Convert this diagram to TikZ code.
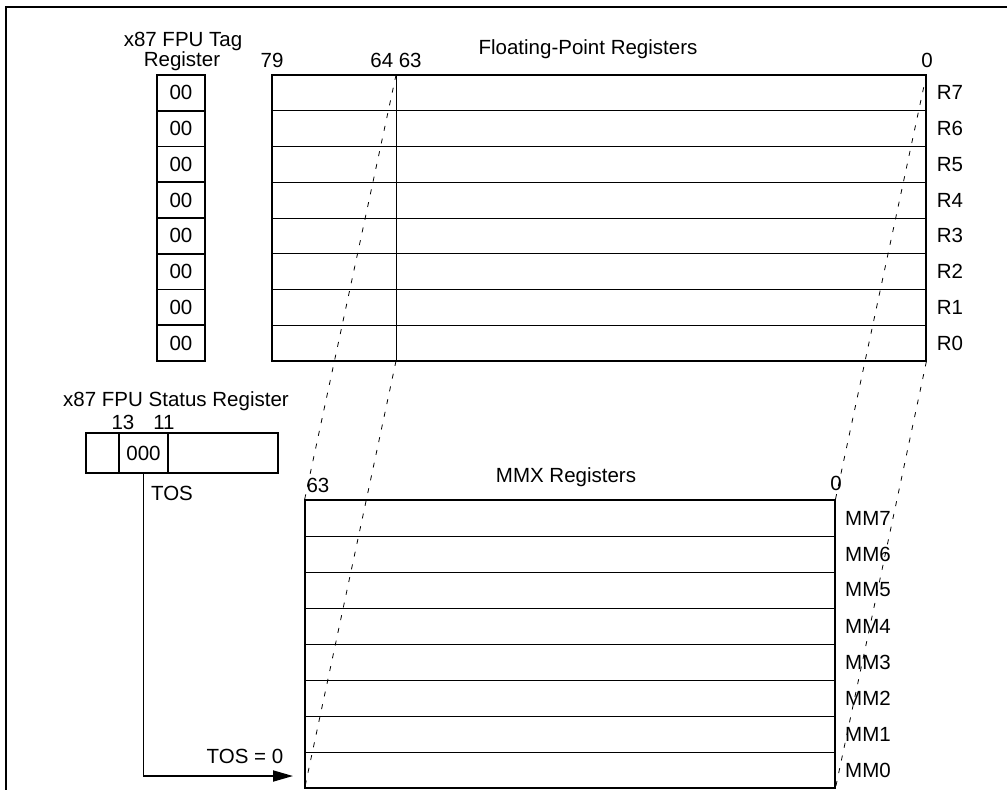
\documentclass[tikz,border=0pt]{standalone}
\usepackage{fontspec}
\setmainfont{Liberation Sans}
\usetikzlibrary{arrows.meta,positioning}

\begin{document}
\begin{tikzpicture}[x=1pt, y=-1pt,
  font=\fontsize{20.5}{22}\selectfont,
  cell/.style={rectangle, draw, line width=1.6pt, inner sep=0pt,
               minimum width=48pt, minimum height=35.75pt},
  regrow/.style={rectangle, draw, line width=0.8pt, inner sep=0pt},
  outline/.style={line width=2pt},
  map/.style={dash pattern=on 5pt off 8pt, line width=0.8pt},
  arrow/.style={-{Triangle[length=20pt,width=11pt]}, line width=1.8pt}
]
\useasboundingbox (0,0) rectangle (1007,790);
\draw[line width=2.2pt] (6,790) -- (6,7) -- (1007,7);

% tag register
\node[anchor=base] (tagtitle) at (183,46) {x87 FPU Tag};
\node[anchor=base] (tagtitle2) at (182,66) {Register};
\foreach \i in {0,...,7}
  \node[cell] (tag\i) at (181,{361-35.75*(\i+0.5)}) {00};

% floating-point registers
\node[anchor=base] (fptitle) at (588,54) {Floating-Point Registers};
\node[anchor=base] (b79) at (272,67) {79};
\node[anchor=base] (b6463) at (396,67) {64 63};
\node[anchor=base] (b0) at (927,67) {0};
\foreach \i in {0,...,7} {
  \node[regrow, minimum width=654pt, minimum height=35.75pt]
    (r\i) at (599,{361-35.75*(\i+0.5)}) {};
  \node (rl\i) at (950,{361-35.75*(\i+0.5)}) {R\i};
}
\draw[outline] (r7.north west) rectangle (r0.south east);
\coordinate (fpA) at (396,75);
\coordinate (fpB) at (396,361);
\draw[line width=0.8pt] (fpA) -- (fpB);

% status register
\node[anchor=base] (swtitle) at (176,406) {x87 FPU Status Register};
\node[anchor=base] (b13) at (123,429) {13};
\node[anchor=base] (b11) at (164,429) {11};
\node[cell, minimum width=33pt, minimum height=40pt] (sw15) at (102.5,453) {};
\node[cell, minimum width=49pt, minimum height=40pt] (tos) at (143.5,453) {000};
\node[cell, minimum width=110pt, minimum height=40pt] (sw10) at (223,453) {};
\node (toslabel) at (172,493) {TOS};

% mmx registers
\node[anchor=base] (mmxtitle) at (566,482) {MMX Registers};
\node[anchor=base] (m63) at (318,492) {63};
\node[anchor=base] (m0) at (836,490) {0};
\foreach \i in {0,...,7} {
  \node[regrow, minimum width=530pt, minimum height=36pt]
    (mm\i) at (570,{788-36*(\i+0.5)}) {};
  \node (ml\i) at (868,{788-36*(\i+0.5)}) {MM\i};
}
\draw[outline] (mm7.north west) rectangle (mm0.south east);

% aliasing
\draw[map] (fpA) -- (mm7.north west);
\draw[map] (fpB) -- (mm0.south west);
\draw[map] (r7.north east) -- (mm7.north east);
\draw[map] (r0.south east) -- (mm0.south east);

% top of stack
\coordinate (tosend) at (293,776);
\draw[arrow] (tos.south) |- (tosend);
\node (toszero) at (245,756) {TOS = 0};
\end{tikzpicture}
\end{document}
